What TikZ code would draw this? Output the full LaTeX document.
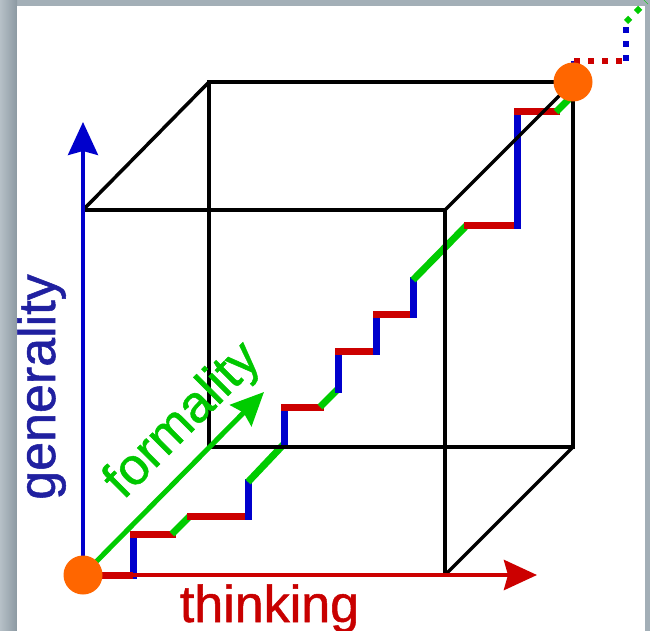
\documentclass[tikz,border=0pt]{standalone}
\usepackage{fontspec}
\setmainfont{Liberation Sans}
\newfontfamily\lblfont[FakeBold=1]{Liberation Sans}
\usetikzlibrary{arrows.meta}
\definecolor{cred}{RGB}{204,0,0}
\definecolor{cblue}{RGB}{0,0,204}
\definecolor{cgreen}{RGB}{0,204,0}
\definecolor{corange}{RGB}{255,102,0}
\definecolor{bggrey}{RGB}{163,175,183}
\definecolor{bgdark}{RGB}{140,153,162}
\definecolor{bglight}{RGB}{182,192,199}
\definecolor{tblue}{RGB}{32,32,160}
\definecolor{tred}{RGB}{200,0,0}
\definecolor{tgreen}{RGB}{0,200,0}
\tikzset{
  edge/.style={black,line width=3.5pt,line join=miter},
  tiphead/.style={-{Stealth[length=33pt,width=30pt,inset=4pt]}},
  axred/.style={cred,line width=4.5pt,tiphead},
  axblue/.style={cblue,line width=3.5pt,tiphead},
  axgreen/.style={cgreen,line width=5pt,tiphead},
  sr/.style={cred,line width=7pt,line cap=rect},
  sb/.style={cblue,line width=7pt,line cap=rect},
  sg/.style={cgreen,line width=7pt,line cap=butt},
  tailr/.style={cred,line width=6pt,dash pattern=on 6pt off 8pt},
  tailb/.style={cblue,line width=6pt,dash pattern=on 6pt off 8pt},
  tailg/.style={cgreen,line width=6pt,dash pattern=on 6pt off 8pt},
  dot/.style={circle,fill=corange,minimum size=39pt,inner sep=0pt},
  lbl/.style={inner sep=0pt,anchor=base,font=\lblfont\fontsize{52}{62}\selectfont}
}
\begin{document}
\begin{tikzpicture}[x=1pt,y=-1pt]
\useasboundingbox (0,0) rectangle (650,631);
% background
\fill[bggrey] (0,0) rectangle (650,631);
\shade[left color=bglight,right color=bgdark] (0,0) rectangle (17,631);
\fill[white] (17,6) rectangle (645,631);
% cube corners
\coordinate (F0) at (83,575);
\coordinate (F1) at (83,210);
\coordinate (F2) at (445,210);
\coordinate (F3) at (445,575);
\coordinate (B1) at (209,82);
\coordinate (B2) at (573,82);
\coordinate (B3) at (573,447);
\coordinate (B4) at (209,447);
% staircase points
\coordinate (s0) at (83,575);
\coordinate (s1) at (133,575);
\coordinate (s2) at (133,534);
\coordinate (s3) at (172,534);
\coordinate (s4) at (190,516);
\coordinate (s5) at (248,516);
\coordinate (s6) at (248,482);
\coordinate (s7) at (284,444);
\coordinate (s8) at (284,407);
\coordinate (s9) at (320,407);
\coordinate (s10) at (338,389);
\coordinate (s11) at (338,351);
\coordinate (s12) at (376,351);
\coordinate (s13) at (376,314);
\coordinate (s14) at (413,314);
\coordinate (s15) at (413,280);
\coordinate (s16) at (467,225);
\coordinate (s17) at (517,225);
\coordinate (s18) at (517,112);
\coordinate (s19) at (556,112);
\coordinate (s20) at (574,94);
% tail points
\coordinate (d1) at (574,61);
\coordinate (d2) at (626,61);
\coordinate (d3) at (626,22);
\coordinate (d4) at (646,2);
% axis tips
\coordinate (tT) at (537,575);
\coordinate (tG) at (83,122);
\coordinate (tF) at (264,392);
% staircase
\draw[sb] (s1) -- (s2);
\draw[sr] (s2) -- (s3);
\draw[sg] (s3) -- (s4);
\draw[sr] (s4) -- (s5);
\draw[sb] (s5) -- (s6);
\draw[sg] (s6) -- (s7);
\draw[sb] (s7) -- (s8);
\draw[sr] (s8) -- (s9);
\draw[sg] (s9) -- (s10);
\draw[sb] (s10) -- (s11);
\draw[sr] (s11) -- (s12);
\draw[sb] (s12) -- (s13);
\draw[sr] (s13) -- (s14);
\draw[sb] (s14) -- (s15);
\draw[sg] (s15) -- (s16);
\draw[sr] (s16) -- (s17);
\draw[sb] (s17) -- (s18);
\draw[sr] (s18) -- (s19);
\draw[sg] (s19) -- (s20);
% cube
\draw[edge] (B1) -- (B2) -- (B3) -- (B4) -- cycle;
\draw[edge] (F1) -- (F2) -- (F3);
\draw[edge] (F1) -- (B1);
\draw[edge] (F2) -- (B2);
\draw[edge] (F3) -- (B3);
% axes
\draw[axred] (F0) -- (tT);
\draw[axblue] (F0) -- (tG);
\draw[axgreen] (F0) -- (tF);
\draw[cred,line width=7pt,line cap=butt] (s0) -- (s1);
% dotted tail
\draw[tailb] (s20) -- (d1);
\draw[tailr] (d1) -- (d2);
\draw[tailb] (d2) -- (d3);
\draw[tailg] (d3) -- (d4);
% dots
\node[dot] (O) at (F0) {};
\node[dot] (E) at (B2) {};
% labels
\node[lbl,text=tred] (lt) at (269.5,622) {thinking};
\node[lbl,text=tblue,rotate=90] (lg) at (55,387) {generality};
\node[lbl,text=tgreen,rotate=45] (lf) at (193,431) {formality};
\end{tikzpicture}
\end{document}
